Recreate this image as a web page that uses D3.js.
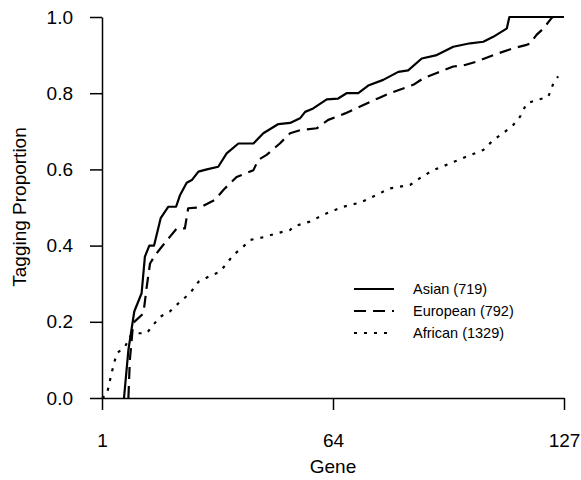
<!DOCTYPE html>
<html>
<head>
<meta charset="utf-8">
<style>
body { margin: 0; background: #fff; }
text { font-family: "Liberation Sans", Arial, sans-serif; fill: #000; }
.axis path, .axis line { stroke: #000; stroke-width: 1.5; }
.series { fill: none; stroke: #000; stroke-width: 2.2; stroke-linejoin: round; }
</style>
</head>
<body>
<svg width="581" height="480"></svg>
<script src="https://d3js.org/d3.v7.min.js"></script>
<script>
// [gene, tagging proportion]
var asian = [[7,0],[8.2,0.126],[9.8,0.227],[11.8,0.275],[12.7,0.371],[13.9,0.40],[15.2,0.40],
  [17,0.472],[19.1,0.502],[21.2,0.502],[22.3,0.533],[24.1,0.565],[25.5,0.572],[27.3,0.594],
  [29.6,0.60],[32.7,0.607],[35,0.642],[38.2,0.668],[42.3,0.668],[45,0.695],[49.1,0.719],
  [52.3,0.722],[55,0.734],[56.4,0.751],[58.6,0.76],[62.3,0.784],[65.4,0.786],[67.7,0.80],
  [70.9,0.80],[73.6,0.82],[77.7,0.835],[81.8,0.856],[84.5,0.86],[88.2,0.891],[92.3,0.90],
  [96.8,0.922],[101.4,0.931],[105,0.935],[107.7,0.948],[110.9,0.967],[111.4,0.97],
  [112.1,1.0],[127,1.0]];

var european = [[8.2,0],[8.6,0.1],[9.5,0.197],[12.3,0.222],[13.2,0.292],[14.1,0.353],
  [15.5,0.375],[17.3,0.397],[19.5,0.423],[21.4,0.445],[23.6,0.445],[24.5,0.498],[27.7,0.50],
  [31.8,0.52],[34.1,0.546],[37.7,0.58],[42.3,0.598],[43.6,0.625],[45.9,0.638],[49.5,0.668],
  [52.3,0.695],[55,0.703],[59.6,0.708],[62.7,0.73],[67.3,0.747],[73.2,0.773],[76.4,0.787],
  [79.5,0.80],[85.9,0.822],[88.6,0.839],[92.3,0.853],[96.8,0.87],[100,0.874],[103.2,0.883],
  [107.7,0.90],[113.2,0.918],[116.8,0.927],[117.7,0.93],[119.5,0.953],[121.4,0.97],
  [123.6,0.997],[124,1.0],[127,1.0]];

var african = [[1,0],[2.3,0.008],[3.6,0.065],[5,0.117],[7.3,0.135],[8.6,0.161],[10,0.17],
  [13.2,0.17],[15,0.192],[16.8,0.213],[19.5,0.227],[21.8,0.248],[25,0.275],[27.3,0.305],
  [30,0.318],[33.2,0.332],[35,0.353],[36.8,0.375],[39.5,0.397],[41.4,0.415],[45,0.422],
  [48.6,0.432],[52.3,0.441],[53.2,0.45],[57.7,0.463],[62.3,0.485],[66.8,0.502],[71.4,0.513],
  [75.9,0.533],[79.4,0.55],[85,0.559],[87.7,0.577],[91.3,0.598],[95,0.612],[100.5,0.634],
  [105,0.651],[107.7,0.677],[110.4,0.695],[113.2,0.717],[115,0.738],[116.8,0.773],
  [119.5,0.782],[122.7,0.79],[124.1,0.826],[125.4,0.844]];

var seriesNames = ["Asian (719)", "European (792)", "African (1329)"];
var dashes = [null, "12,7", "3,7"];
var xTicks = [1, 64, 127];
var yTicks = [0, 0.2, 0.4, 0.6, 0.8, 1.0];

var svg = d3.select("svg");

var x = d3.scaleLinear().domain([1, 127]).range([102, 564]);
var y = d3.scaleLinear().domain([0, 1]).range([398, 17]);

svg.append("g")
  .attr("class", "axis")
  .attr("transform", "translate(0,398)")
  .call(d3.axisBottom(x).tickValues(xTicks).tickSizeInner(12).tickSizeOuter(0).tickPadding(24))
  .call(function(g) { g.selectAll("text").style("font-size", "19px"); });

svg.append("g")
  .attr("class", "axis")
  .attr("transform", "translate(102,0)")
  .call(d3.axisLeft(y).tickValues(yTicks).tickFormat(d3.format(".1f"))
    .tickSizeInner(12).tickSizeOuter(0).tickPadding(17))
  .call(function(g) { g.selectAll("text").style("font-size", "19px"); });

var line = d3.line()
  .x(function(d) { return x(d[0]); })
  .y(function(d) { return y(d[1]); });

var data = [asian, european, african];

svg.selectAll(".series")
  .data(data)
  .enter().append("path")
  .attr("class", "series")
  .attr("stroke-dasharray", function(d, i) { return dashes[i]; })
  .attr("d", line);

svg.append("text")
  .attr("transform", "translate(26,207) rotate(-90)")
  .attr("text-anchor", "middle")
  .style("font-size", "19px")
  .text("Tagging Proportion");

svg.append("text")
  .attr("x", 333)
  .attr("y", 473)
  .attr("text-anchor", "middle")
  .style("font-size", "19px")
  .text("Gene");

var legend = svg.append("g")
  .selectAll("g")
  .data(seriesNames)
  .enter().append("g")
  .attr("transform", function(d, i) { return "translate(354," + (289 + i * 22) + ")"; });

legend.append("line")
  .attr("class", "series")
  .attr("x1", 0).attr("x2", 40)
  .attr("stroke-dasharray", function(d, i) { return dashes[i]; });

legend.append("text")
  .attr("x", 59)
  .attr("dy", "0.35em")
  .style("font-size", "14.5px")
  .text(function(d) { return d; });
</script>
</body>
</html>
